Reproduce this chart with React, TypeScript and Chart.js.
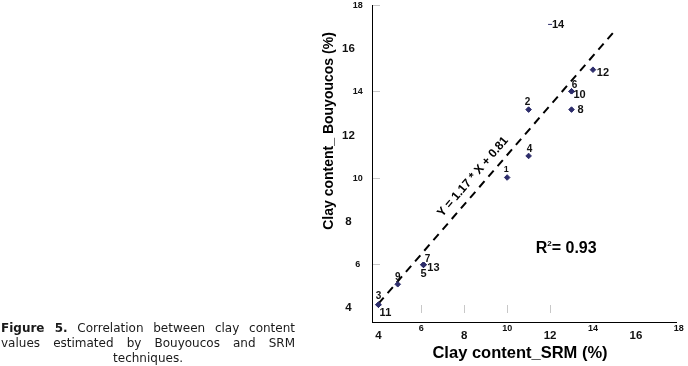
import React, { useEffect, useRef } from "react";
import { Chart, registerables } from "chart.js";

Chart.register(...registerables);

// ---- data ----
const pointIds = ["1", "2", "3", "4", "5", "6", "7", "8", "9", "10", "11", "12", "13", "14"];
const srmValues = [10.0, 11.0, 4.0, 11.0, 6.1, 13.0, 6.1, 13.0, 4.9, 13.0, 4.0, 14.0, 6.1, 12.0];
const bouyoucosValues = [10.0, 13.15, 4.1, 11.0, 5.95, 14.0, 5.95, 13.15, 5.05, 14.0, 4.1, 15.0, 5.95, 17.1];
const fitLineX = [4.0, 14.95];
const fitLineY = [4.15, 16.73];
const xTickValues = [4, 6, 8, 10, 12, 14, 16, 18];
const yTickValues = [4, 6, 8, 10, 12, 14, 16, 18];
const equationText = "Y = 1.17 * X + 0.81";
const rSquaredValue = "0.93";
const xAxisTitle = "Clay content_SRM (%)";
const yAxisTitle = "Clay content_ Bouyoucos (%)";

const FONT = "'Liberation Sans', Arial, sans-serif";

const labelStyle: Record<string, { dx: number; dy: number; size: number }> = {
  "1": { dx: -1, dy: -8, size: 9 },
  "2": { dx: -1, dy: -7, size: 10 },
  "3": { dx: 0, dy: -8, size: 10 },
  "4": { dx: 1, dy: -7, size: 10 },
  "5": { dx: 0, dy: 9.5, size: 11 },
  "6": { dx: 3, dy: -6, size: 10 },
  "7": { dx: 4, dy: -6, size: 10 },
  "8": { dx: 9, dy: 0, size: 11 },
  "9": { dx: 0, dy: -7, size: 10 },
  "10": { dx: 8, dy: 4, size: 11 },
  "11": { dx: 7, dy: 8, size: 11 },
  "12": { dx: 10, dy: 3.5, size: 11 },
  "13": { dx: 10, dy: 3, size: 11 },
  "14": { dx: 8, dy: 1, size: 11 },
};

const overlay = {
  id: "overlay",
  afterDraw(chart: any) {
    const { ctx, chartArea } = chart;
    const xs = chart.scales.x;
    const ys = chart.scales.y;
    ctx.save();

    // faint tick marks inside the plot
    ctx.strokeStyle = "#c8c8c8";
    ctx.lineWidth = 1;
    ctx.beginPath();
    [6, 10, 14, 18].forEach((v) => {
      const py = Math.round(ys.getPixelForValue(v)) + 0.5;
      ctx.moveTo(chartArea.left + 1, py);
      ctx.lineTo(chartArea.left + 8, py);
    });
    [6, 8, 10, 12].forEach((v) => {
      const px = Math.round(xs.getPixelForValue(v)) + 0.5;
      ctx.moveTo(px, chartArea.bottom - 17);
      ctx.lineTo(px, chartArea.bottom - 9);
    });
    ctx.stroke();

    // tick labels (staggered)
    ctx.fillStyle = "#111";
    ctx.textAlign = "center";
    ctx.textBaseline = "middle";
    yTickValues.forEach((v) => {
      const big = v % 4 === 0;
      ctx.font = `bold ${big ? 11.5 : 9}px ${FONT}`;
      const py = ys.getPixelForValue(v) + (big ? 1 : 0.5);
      ctx.fillText(String(v), chartArea.left - (big ? 23.5 : 14.3), py);
    });
    xTickValues.forEach((v) => {
      const big = v % 4 === 0;
      ctx.font = `bold ${big ? 11.5 : 9}px ${FONT}`;
      const px = xs.getPixelForValue(v);
      ctx.fillText(String(v), px, chartArea.bottom + (big ? 14 : 6.3));
    });

    // axis titles
    ctx.fillStyle = "#000";
    ctx.font = `bold 16.5px ${FONT}`;
    ctx.textBaseline = "alphabetic";
    ctx.fillText(xAxisTitle, chartArea.left + 148, chartArea.bottom + 35.5);
    ctx.save();
    ctx.translate(chartArea.left - 39.3, chartArea.top + 126);
    ctx.rotate(-Math.PI / 2);
    ctx.font = `bold 14px ${FONT}`;
    ctx.fillText(yAxisTitle, 0, 0);
    ctx.restore();

    // point labels
    ctx.textBaseline = "middle";
    ctx.fillStyle = "#111";
    pointIds.forEach((id, i) => {
      const st = labelStyle[id];
      const px = xs.getPixelForValue(srmValues[i]);
      const py = ys.getPixelForValue(bouyoucosValues[i]);
      ctx.font = `bold ${st.size}px ${FONT}`;
      ctx.fillText(id, px + st.dx, py + st.dy);
    });

    // regression equation along the line
    const x0 = xs.getPixelForValue(fitLineX[0]);
    const y0 = ys.getPixelForValue(fitLineY[0]);
    const x1 = xs.getPixelForValue(fitLineX[1]);
    const y1 = ys.getPixelForValue(fitLineY[1]);
    const ang = Math.atan2(y1 - y0, x1 - x0);
    ctx.save();
    ctx.translate(xs.getPixelForValue(8.41), ys.getPixelForValue(10.03));
    ctx.rotate(ang);
    ctx.font = `bold 12px ${FONT}`;
    ctx.fillStyle = "#000";
    ctx.textAlign = "center";
    ctx.fillText(equationText, 0, 0);
    ctx.restore();

    // R squared
    ctx.fillStyle = "#000";
    ctx.textAlign = "left";
    ctx.textBaseline = "alphabetic";
    let rx = xs.getPixelForValue(11.33);
    const rb = ys.getPixelForValue(6.5);
    ctx.font = `bold 16px ${FONT}`;
    ctx.fillText("R", rx, rb);
    rx += ctx.measureText("R").width;
    ctx.font = `bold 8px ${FONT}`;
    ctx.fillText("2", rx, rb - 7);
    rx += ctx.measureText("2").width;
    ctx.font = `bold 16px ${FONT}`;
    ctx.fillText("= " + rSquaredValue, rx, rb);

    ctx.restore();
  },
};

export default function App() {
  const canvasRef = useRef<HTMLCanvasElement | null>(null);

  useEffect(() => {
    const canvas = canvasRef.current;
    if (!canvas) return;
    const chart = new Chart(canvas, {
      type: "scatter",
      data: {
        datasets: [
          {
            type: "scatter",
            data: srmValues.map((v, i) => ({ x: v, y: bouyoucosValues[i] })),
            pointStyle: (c: any) => (c.dataIndex === 13 ? "line" : "rectRot"),
            pointRadius: (c: any) => (c.dataIndex === 13 ? 2 : 2.8),
            backgroundColor: "#2d2d6b",
            borderColor: "#2d2d6b",
            borderWidth: 1,
          } as any,
          {
            type: "line",
            data: fitLineX.map((v, i) => ({ x: v, y: fitLineY[i] })),
            borderColor: "#000",
            borderWidth: 2,
            borderDash: [8, 6],
            pointRadius: 0,
            fill: false,
            tension: 0,
          } as any,
        ],
      },
      options: {
        responsive: false,
        animation: false,
        devicePixelRatio: 1,
        events: [],
        layout: { padding: { left: 372, top: 5, right: 12, bottom: 44 } },
        plugins: { legend: { display: false }, tooltip: { enabled: false } },
        scales: {
          x: {
            type: "linear",
            min: 3.7,
            max: 17.87,
            ticks: { display: false },
            grid: { display: false, drawTicks: false, tickLength: 0 },
            border: { display: true, color: "#000", width: 1 },
          },
          y: {
            type: "linear",
            min: 3.3,
            max: 18,
            ticks: { display: false },
            grid: { display: false, drawTicks: false, tickLength: 0 },
            border: { display: true, color: "#000", width: 1 },
          },
        },
      } as any,
      plugins: [overlay],
    });
    return () => chart.destroy();
  }, []);

  const lineStyle: React.CSSProperties = {
    textAlign: "justify",
    textAlignLast: "justify" as any,
    height: 15,
  };

  return (
    <div style={{ position: "fixed", left: 0, top: 0, width: 688, height: 366, background: "#fff", overflow: "hidden" }}>
      <canvas ref={canvasRef} width={688} height={366} style={{ position: "absolute", left: 0, top: 0, width: 688, height: 366 }} />
      <div
        style={{
          position: "absolute",
          left: 1,
          top: 321,
          width: 294,
          fontFamily: "'DejaVu Sans', Verdana, sans-serif",
          fontSize: 12,
          lineHeight: "15px",
          color: "#1a1a1a",
        }}
      >
        <div style={lineStyle}>
          <b>Figure 5.</b> Correlation between clay content
        </div>
        <div style={lineStyle}>values estimated by Bouyoucos and SRM</div>
        <div style={{ textAlign: "center", height: 15 }}>techniques.</div>
      </div>
    </div>
  );
}
